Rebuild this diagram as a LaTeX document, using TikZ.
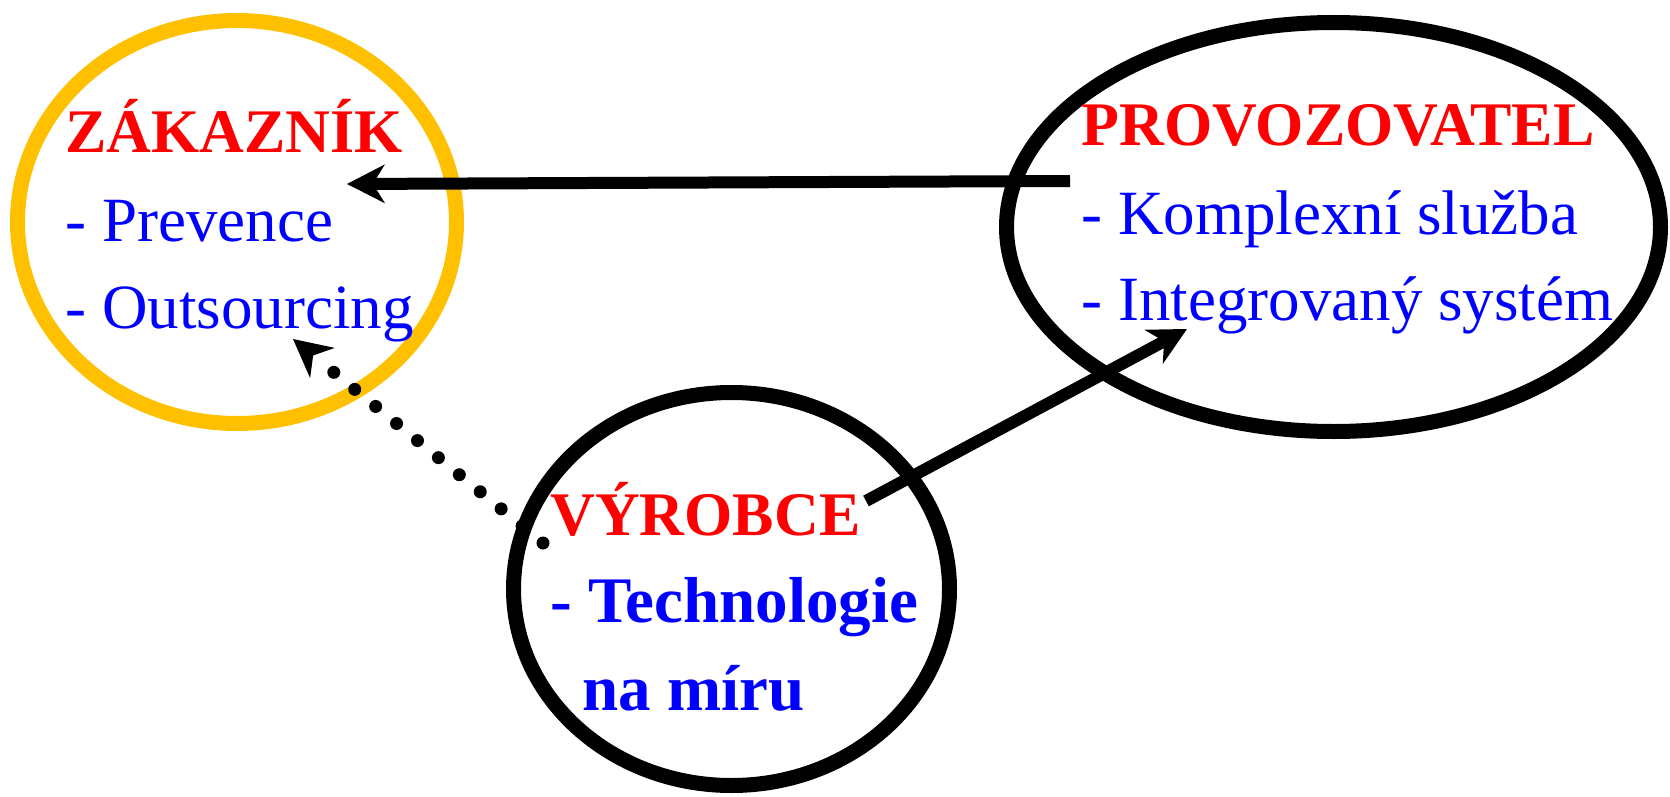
\documentclass[tikz,border=0pt]{standalone}
\usepackage{fontspec}
\setmainfont{Liberation Serif}
\usetikzlibrary{shapes.geometric,arrows.meta}
\definecolor{gold}{HTML}{FFC000}
\definecolor{labelred}{HTML}{FF0000}
\definecolor{itemblue}{HTML}{0000FF}

\begin{document}
\begin{tikzpicture}[x=0.5pt,y=-0.5pt,
  party/.style={ellipse, draw, line width=7.5pt, inner sep=0pt},
  head/.style={anchor=base west, inner sep=0pt, text=labelred,
    font=\fontsize{31}{36}\selectfont\bfseries},
  item/.style={anchor=base west, inner sep=0pt, text=itemblue,
    font=\fontsize{31.5}{36}\selectfont},
  bolditem/.style={item, font=\fontsize{32.5}{36}\selectfont\bfseries},
  flowtip/.style={-{Stealth[length=19pt,width=19.5pt,inset=6pt,line width=0pt]}},
  flow/.style={line width=6pt, flowtip},
  hint/.style={line width=6.5pt, line cap=round, dash pattern=on 0pt off 13.5pt, flowtip}]

\useasboundingbox (0,0) rectangle (1670,797);

% the three parties
\node[party, draw=gold, minimum width=219.5pt, minimum height=201.5pt] (zakaznik) at (237,222) {};
\node[party, minimum width=327pt, minimum height=204.5pt] (provozovatel) at (1333.5,227) {};
\node[party, minimum width=218pt, minimum height=196.5pt] (vyrobce) at (731.5,589) {};

% connector end points
\coordinate (p-out) at (1070,181);
\coordinate (z-in) at (347,184);
\coordinate (v-out) at (866,501);
\coordinate (p-in) at (1187,329);
\coordinate (v-hint) at (543,543);
\coordinate (z-hint) at (293,339);

\draw[flow] (p-out) -- (z-in);
\draw[flow] (v-out) -- (p-in);
\draw[hint] (v-hint) -- (z-hint);

% labels
\node[head] (z-title) at (65,153) {ZÁKAZNÍK};
\node[item] (z-item1) at (65,241) {- Prevence};
\node[item] (z-item2) at (65,328) {- Outsourcing};

\node[head] (p-title) at (1081,146) {PROVOZOVATEL};
\node[item] (p-item1) at (1081,234) {- Komplexní služba};
\node[item] (p-item2) at (1081,320) {- Integrovaný systém};

\node[head] (v-title) at (550,535) {VÝROBCE};
\node[bolditem] (v-item1) at (550,622) {- Technologie};
\node[bolditem] (v-item2) at (582,710) {na míru};
\end{tikzpicture}
\end{document}
